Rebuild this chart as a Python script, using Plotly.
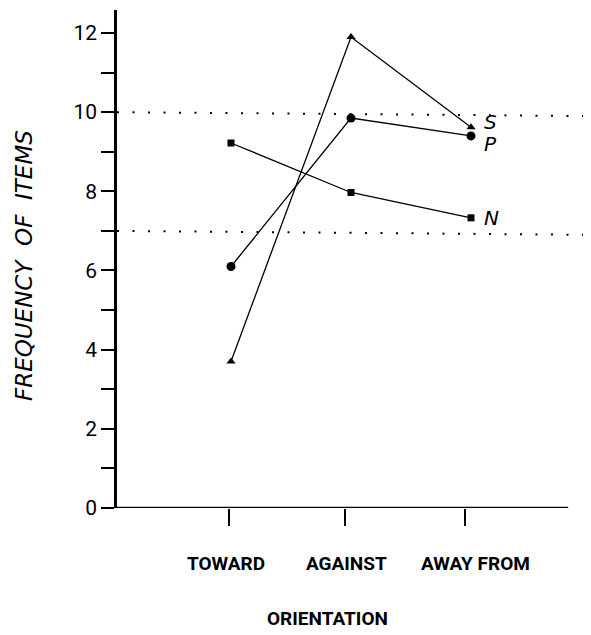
import plotly.graph_objects as go

# ---- data ----
categories = ["TOWARD", "AGAINST", "AWAY FROM"]
cat_pos = [1, 2, 3]
series_names = ["S", "P", "N"]
s_values = [3.7, 11.9, 9.62]
p_values = [6.1, 9.85, 9.4]
n_values = [9.22, 7.97, 7.33]
y_tick_vals = list(range(0, 13))
y_tick_text = ["0", "", "2", "", "4", "", "6", "", "8", "", "10", "", "12"]
x_axis_title = "ORIENTATION"
y_axis_title = "FREQUENCY  OF  ITEMS"
ref_lines = [(10.0, 9.9), (7.0, 6.9)]

COND = "Roboto, Liberation Sans Narrow, sans-serif"
SANS = "DejaVu Sans, Open Sans, sans-serif"

fig = go.Figure()

markers = {"S": ("triangle-up", 8), "P": ("circle", 9), "N": ("square", 7)}
values = {"S": s_values, "P": p_values, "N": n_values}
label_shift = {"S": 5, "P": -8, "N": 0}

for name in series_names:
    sym, size = markers[name]
    fig.add_trace(go.Scatter(
        x=cat_pos, y=values[name], mode="lines+markers",
        line=dict(color="black", width=1.3),
        marker=dict(symbol=sym, size=size, color="black"),
        showlegend=False, name=name,
    ))
    fig.add_annotation(
        x=cat_pos[-1], y=values[name][-1], xref="x", yref="y",
        text=name, showarrow=False, xanchor="left", yanchor="middle",
        xshift=11, yshift=label_shift[name],
        font=dict(family=SANS, size=20, color="black", style="italic"),
    )

# dotted reference lines
for y0, y1 in ref_lines:
    fig.add_shape(type="line", xref="x", yref="y", x0=0.05, x1=4.0, y0=y0, y1=y1,
                  line=dict(color="black", width=2, dash="2px,13.5px"))

# x axis line (ends short of the right edge)
fig.add_shape(type="line", xref="x", yref="y", x0=0.05, x1=3.81, y0=0, y1=0,
              line=dict(color="black", width=2.5))

# category labels
label_x = [0.96, 1.96, 3.04]
for cx, cat in zip(label_x, categories):
    fig.add_annotation(x=cx, y=0, xref="x", yref="y", text="<b>%s</b>" % cat,
                       showarrow=False, yanchor="middle", xanchor="center", yshift=-55,
                       font=dict(family=COND, size=19, color="black"))

fig.add_annotation(x=1.8, y=0, xref="x", yref="y", text="<b>%s</b>" % x_axis_title,
                   showarrow=False, yanchor="middle", xanchor="center", yshift=-110,
                   font=dict(family=COND, size=19, color="black"))

fig.add_annotation(x=-0.196, y=0.486, xref="paper", yref="paper", text=y_axis_title,
                   showarrow=False, textangle=-90, xanchor="center", yanchor="middle",
                   font=dict(family=SANS, size=23, color="black", style="italic"))

fig.update_layout(
    width=583, height=627,
    margin=dict(l=109, r=0, t=2, b=127),
    paper_bgcolor="white", plot_bgcolor="white",
    xaxis=dict(range=[0.05, 4.0], showgrid=False, zeroline=False, showline=False,
               tickvals=[0.983, 1.95, 2.95], ticktext=["", "", ""],
               ticks="outside", ticklen=17, tickwidth=2, tickcolor="black",
               fixedrange=True),
    yaxis=dict(range=[0, 12.58], showgrid=False, zeroline=False, showline=True,
               linecolor="black", linewidth=2.5,
               tickvals=y_tick_vals, ticktext=y_tick_text,
               ticks="outside", ticklen=13, tickwidth=2, tickcolor="black",
               tickfont=dict(family=COND, size=21, color="black"),
               fixedrange=True),
)

fig.write_html("out.html")
